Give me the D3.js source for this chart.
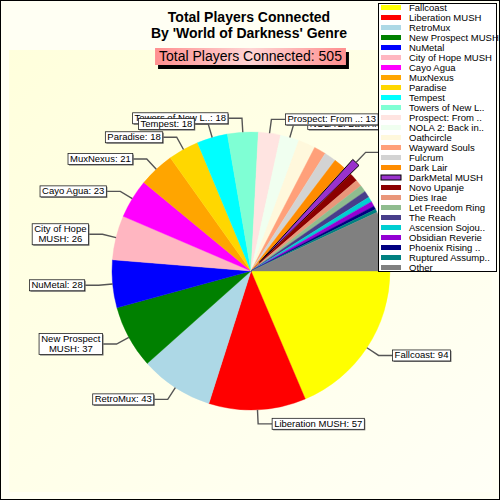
<!DOCTYPE html>
<html>
<head>
<meta charset="utf-8">
<script src="https://cdn.jsdelivr.net/npm/d3@7"></script>
<style>
  body { margin: 0; background: #fff; }
  svg { display: block; font-family: Arial, "Liberation Sans", sans-serif; }
</style>
</head>
<body>
<div id="chart"></div>
<script>
// chart values
var names = ["Fallcoast", "Liberation MUSH", "RetroMux", "New Prospect MUSH", "NuMetal",
  "City of Hope MUSH", "Cayo Agua", "MuxNexus", "Paradise", "Tempest", "Towers of New L..",
  "Prospect: From ..", "NOLA 2: Back in..", "Oathcircle", "Wayward Souls", "Fulcrum",
  "Dark Lair", "DarkMetal MUSH", "Novo Upanje", "Dies Irae", "Let Freedom Ring", "The Reach",
  "Ascension Sojou..", "Obsidian Reverie", "Phoenix Rising ..", "Ruptured Assump..", "Other"]
var values = [94, 57, 43, 37, 28, 26, 23, 21, 18, 18, 18, 13, 11, 10, 7, 7, 7, 5, 5, 4, 4, 4, 3, 3, 2, 2, 35]
var colors = ["#ffff00", "#ff0000", "#add8e6", "#008000", "#0000ff", "#ffb6c1", "#ff00ff",
  "#ffa500", "#ffd700", "#00ffff", "#7fffd4", "#ffe4e1", "#f0fff0", "#fff8dc", "#ffa07a",
  "#d3d3d3", "#ff8c00", "#9932cc", "#8b0000", "#e9967a", "#8fbc8f", "#483d8b", "#00ced1",
  "#9400d3", "#000080", "#008080", "#808080"]
var exploded = ["DarkMetal MUSH"]
var titleLines = ["Total Players Connected", "By 'World of Darkness' Genre"]
var subtitle = "Total Players Connected: 505"

var width = 500, height = 500
var cx = 251, cy = 271, R = 139
var LABEL_MIN = 11

var data = names.map(function(n, i) { return {name: n, value: values[i], color: colors[i]} })

var svg = d3.select("#chart").append("svg")
    .attr("width", width)
    .attr("height", height)

var defs = svg.append("defs")
var bg = defs.append("linearGradient").attr("id", "bgGrad")
    .attr("x1", "0%").attr("y1", "0%").attr("x2", "100%").attr("y2", "100%")
bg.append("stop").attr("offset", "0%").attr("stop-color", "#ffffdc")
bg.append("stop").attr("offset", "100%").attr("stop-color", "#fffff6")

var sg = defs.append("linearGradient").attr("id", "subGrad")
    .attr("x1", "0%").attr("y1", "0%").attr("x2", "100%").attr("y2", "0%")
sg.append("stop").attr("offset", "0%").attr("stop-color", "#ff8f8f")
sg.append("stop").attr("offset", "50%").attr("stop-color", "#ffd4d4")
sg.append("stop").attr("offset", "100%").attr("stop-color", "#ff8f8f")

// background
svg.append("rect")
    .attr("x", 0.5).attr("y", 0.5)
    .attr("width", width - 1).attr("height", height - 1)
    .attr("fill", "#fffff3")
    .attr("stroke", "#000")
svg.append("rect")
    .attr("x", 9).attr("y", 50)
    .attr("width", 483).attr("height", 442)
    .attr("fill", "url(#bgGrad)")

// titles
svg.selectAll(".title")
    .data(titleLines)
    .enter()
    .append("text")
        .attr("class", "title")
        .attr("x", 249)
        .attr("y", function(d, i) { return 22 + i * 16 })
        .attr("text-anchor", "middle")
        .style("font-size", "14px")
        .style("font-weight", "bold")
        .text(function(d) { return d })

var sub = svg.append("g")
var subText = sub.append("text")
    .attr("x", 250.5).attr("y", 61)
    .attr("text-anchor", "middle")
    .style("font-size", "14px")
    .text(subtitle)
var sw = subText.node().getComputedTextLength() + 8
sub.insert("rect", "text")
    .attr("x", 250.5 - sw / 2 + 3).attr("y", 48 + 4)
    .attr("width", sw).attr("height", 17)
    .attr("fill", "#000")
sub.insert("rect", "text")
    .attr("x", 250.5 - sw / 2).attr("y", 48)
    .attr("width", sw).attr("height", 17)
    .attr("fill", "url(#subGrad)")

// pie
var pie = d3.pie()
    .sort(null)
    .value(function(d) { return d.value })
    .startAngle(Math.PI / 2)
    .endAngle(Math.PI / 2 + 2 * Math.PI)
var arcs = pie(data)
var arc = d3.arc().innerRadius(0).outerRadius(R)

function offsetOf(d) { return exploded.indexOf(d.data.name) >= 0 ? 12 : 0 }
function polar(a, r) { return [Math.sin(a) * r, -Math.cos(a) * r] }

var pg = svg.append("g").attr("transform", "translate(" + cx + "," + cy + ")")

pg.selectAll("path.slice")
    .data(arcs)
    .enter()
    .append("path")
        .attr("class", "slice")
        .attr("d", arc)
        .attr("transform", function(d) {
            var p = polar((d.startAngle + d.endAngle) / 2, offsetOf(d))
            return "translate(" + p[0] + "," + p[1] + ")"
        })
        .attr("fill", function(d) { return d.data.color })
        .attr("stroke", function(d) { return offsetOf(d) ? "#000" : d.data.color })
        .attr("stroke-width", function(d) { return offsetOf(d) ? 1 : 0.4 })

// labels
var labelled = arcs.filter(function(d) { return d.value >= LABEL_MIN || offsetOf(d) }).reverse()
labelled.forEach(function(d) {
    var mid = (d.startAngle + d.endAngle) / 2
    var off = offsetOf(d)
    var p0 = polar(mid, R + off)
    var p1 = polar(mid, R + 14 + off)
    var side = p1[0] >= 0 ? 1 : -1
    var p2 = [p1[0] + side * 14, p1[1]]

    pg.append("polyline")
        .attr("points", [p0, p1, p2].map(function(p) { return p.join(",") }).join(" "))
        .attr("fill", "none")
        .attr("stroke", "#555")
        .attr("stroke-width", 1.4)

    var g = pg.append("g")
    var txt = g.append("text")
        .style("font-size", "9.5px")
        .attr("text-anchor", "middle")
    var full = d.data.name + ": " + d.value
    txt.text(full)
    var w = txt.node().getComputedTextLength()
    var lines = [full]
    if (side < 0 && cx + p2[0] - w - 4 < 12) {
        var k = d.data.name.lastIndexOf(" ")
        lines = [d.data.name.slice(0, k), d.data.name.slice(k + 1) + ": " + d.value]
    }
    txt.text(null)
    lines.forEach(function(l, i) {
        txt.append("tspan").attr("x", 0).attr("dy", i == 0 ? 0 : 10).text(l)
    })
    w = txt.node().getBBox().width
    var bw = w + 4, bh = lines.length * 10 + 1
    var bx = side > 0 ? p2[0] : p2[0] - bw
    var by = p2[1] - bh / 2
    g.insert("rect", "text")
        .attr("x", bx + 1).attr("y", by + 1)
        .attr("width", bw).attr("height", bh)
        .attr("fill", "#777")
    g.insert("rect", "text")
        .attr("x", bx).attr("y", by)
        .attr("width", bw).attr("height", bh)
        .attr("fill", "#fff")
        .attr("stroke", "#222")
        .attr("stroke-width", 0.8)
    txt.attr("transform", "translate(" + (bx + bw / 2) + "," + (by + 8.5) + ")")
})

// legend
var legend = svg.append("g")
legend.append("rect")
    .attr("x", 378.5).attr("y", 3.5)
    .attr("width", 118).attr("height", 268)
    .attr("fill", "#fff")
    .attr("stroke", "#000")

var rowY = d3.scaleLinear().domain([0, 1]).range([7.5, 17.5])
var item = legend.selectAll(".item")
    .data(data)
    .enter()
    .append("g")
        .attr("class", "item")
        .attr("transform", function(d, i) { return "translate(0," + rowY(i) + ")" })
item.append("rect")
    .attr("x", 381).attr("y", -2.5)
    .attr("width", 20).attr("height", 5)
    .attr("fill", function(d) { return d.color })
    .attr("stroke", function(d) { return exploded.indexOf(d.name) >= 0 ? "#000" : "none" })
item.append("text")
    .attr("x", 409).attr("y", 3.4)
    .style("font-size", "9.5px")
    .text(function(d) { return d.name })
</script>
</body>
</html>
